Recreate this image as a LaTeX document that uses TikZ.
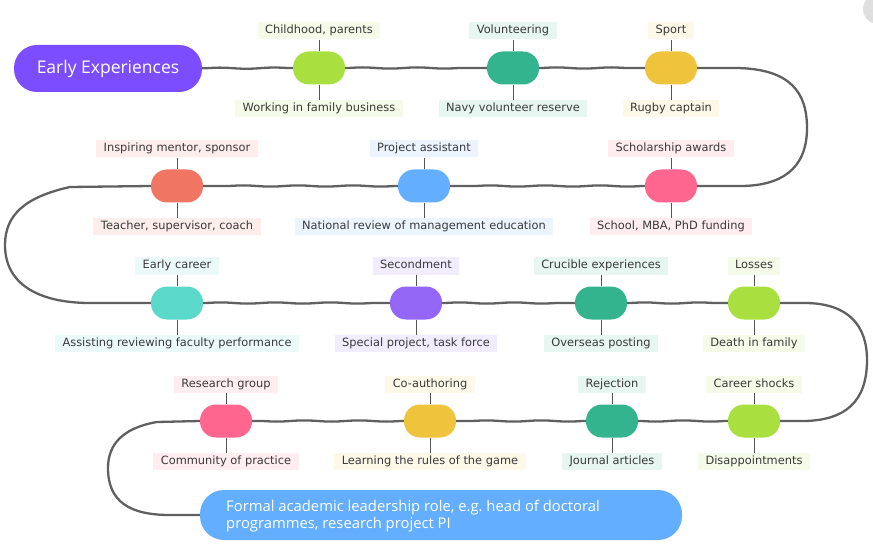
\documentclass[tikz,border=0pt]{standalone}
\usepackage{fontspec}
\setmainfont{DejaVu Sans}
\newfontfamily\bigfont{Open Sans}
\usetikzlibrary{decorations.pathmorphing}
\definecolor{cstart}{HTML}{7C4DFF}
\definecolor{cgreen}{HTML}{A9E040}
\definecolor{cteal}{HTML}{34B48E}
\definecolor{cyellow}{HTML}{F0C33C}
\definecolor{corange}{HTML}{F07562}
\definecolor{cblue}{HTML}{64AEFF}
\definecolor{cpink}{HTML}{FF668F}
\definecolor{cturq}{HTML}{5AD9CB}
\definecolor{cviolet}{HTML}{9466F5}
\definecolor{textgray}{HTML}{3A3A3A}
\definecolor{linegray}{HTML}{606060}
\definecolor{tickgray}{HTML}{555555}
\newcommand\evnode[6]{%
  \node[pill, fill=#4] (#1) at (#2,#3) {};
  \node[lbl, fill=#4!12] (#1t) at (#2,#3-37) {#5};
  \node[lbl, fill=#4!12] (#1b) at (#2,#3+40.5) {#6};
  \draw[tick] (#1t) -- (#1);
  \draw[tick] (#1) -- (#1b);
}
\begin{document}
\begin{tikzpicture}[x=1pt,y=-1pt,
  pill/.style={rounded corners=16pt, minimum width=52pt, minimum height=33pt, inner sep=0pt},
  lbl/.style={font=\fontsize{11.4}{13}\selectfont, text=textgray, inner xsep=7.5pt, inner ysep=0pt,
              minimum height=17pt, text height=8.5pt, text depth=2.5pt},
  conn/.style={draw=linegray, line width=2.3pt},
  tick/.style={draw=tickgray, line width=0.8pt},
  wavy/.style={decorate, decoration={snake, amplitude=0.6pt, segment length=55pt}}
]
\useasboundingbox (0,0) rectangle (873,548);
\fill[gray!25] (878,9) circle (15);

% start and end
\node[rounded corners=23pt, fill=cstart, minimum width=188pt, minimum height=47pt, inner sep=0pt,
      text=white, font=\bigfont\fontsize{17.5}{20}\selectfont] (start) at (108,68.5) {Early Experiences};
\node[rounded corners=24pt, fill=cblue, minimum width=482pt, minimum height=50pt, inner sep=0pt] (end) at (441,515) {};
\node[anchor=west, inner sep=0pt, text=white, font=\bigfont\fontsize{14.8}{17.2}\selectfont, align=left]
  (endtext) at (226,516.5)
  {Formal academic leadership role, e.g.\ head of doctoral\\programmes, research project PI};

% row 1
\evnode{a1}{319}{68}{cgreen}{Childhood, parents}{Working in family business}
\evnode{a2}{513}{68}{cteal}{Volunteering}{Navy volunteer reserve}
\evnode{a3}{671}{68}{cyellow}{Sport}{Rugby captain}
% row 2
\evnode{b1}{671}{186}{cpink}{Scholarship awards}{School, MBA, PhD funding}
\evnode{b2}{424}{186}{cblue}{Project assistant}{National review of management education}
\evnode{b3}{177}{186}{corange}{Inspiring mentor, sponsor}{Teacher, supervisor, coach}
% row 3
\evnode{c1}{177}{303}{cturq}{Early career}{Assisting reviewing faculty performance}
\evnode{c2}{416}{303}{cviolet}{Secondment}{Special project, task force}
\evnode{c3}{601}{303}{cteal}{Crucible experiences}{Overseas posting}
\evnode{c4}{754}{303}{cgreen}{Losses}{Death in family}
% row 4
\evnode{d1}{754}{421}{cgreen}{Career shocks}{Disappointments}
\evnode{d2}{612}{421}{cteal}{Rejection}{Journal articles}
\evnode{d3}{430}{421}{cyellow}{Co-authoring}{Learning the rules of the game}
\evnode{d4}{226}{421}{cpink}{Research group}{Community of practice}

% connectors
\draw[conn, wavy] (start) -- (a1);
\draw[conn, wavy] (a1) -- (a2);
\draw[conn, wavy] (a2) -- (a3);
\draw[conn] (a3.east) -- (737,68) .. controls (790,69) and (807,92) .. (807,128)
   .. controls (807,170) and (780,186) .. (740,186) -- (b1.east);
\draw[conn, wavy] (b1) -- (b2);
\draw[conn, wavy] (b2) -- (b3);
\draw[conn] (b3.west) -- (70,187) .. controls (25,197) and (5,215) .. (5,245)
   .. controls (5,288) and (45,303) .. (90,303) -- (c1.west);
\draw[conn, wavy] (c1) -- (c2);
\draw[conn, wavy] (c2) -- (c3);
\draw[conn, wavy] (c3) -- (c4);
\draw[conn] (c4.east) -- (807,303) .. controls (848,304) and (867,325) .. (867,360)
   .. controls (867,402) and (845,420) .. (805,421) -- (d1.east);
\draw[conn, wavy] (d1) -- (d2);
\draw[conn, wavy] (d2) -- (d3);
\draw[conn, wavy] (d3) -- (d4);
\draw[conn] (d4.west) -- (157,422) .. controls (122,428) and (108,445) .. (108,468)
   .. controls (108,502) and (130,515) .. (170,515) -- (end.west);
\end{tikzpicture}
\end{document}
